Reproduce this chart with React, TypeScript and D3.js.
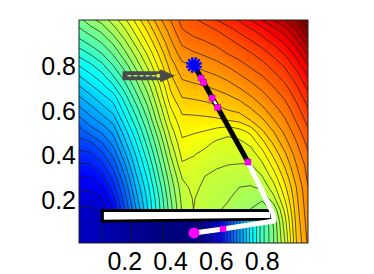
import React from 'react';
import * as d3 from 'd3';

// field value: rows run top (y=1) to bottom (y=0), x from 0 to 1
const fieldRows = [
  [.49, .517, .535, .562, .594, .634, .676, .718, .75, .785, .797, .806, .825, .84, .852, .875, .9, .926, .95, .977, 1.03],
  [.467, .485, .505, .536, .569, .61, .652, .697, .735, .772, .783, .79, .798, .811, .829, .843, .861, .886, .91, .947, .997],
  [.44, .458, .477, .506, .544, .586, .629, .676, .72, .755, .766, .773, .782, .792, .805, .821, .836, .855, .88, .914, .964],
  [.41, .428, .45, .479, .518, .56, .605, .655, .705, .738, .747, .754, .763, .776, .786, .798, .814, .832, .853, .885, .93],
  [.378, .397, .42, .453, .489, .537, .582, .635, .688, .72, .727, .736, .743, .754, .767, .781, .793, .811, .831, .861, .901],
  [.35, .37, .392, .425, .464, .51, .56, .615, .672, .705, .711, .717, .724, .734, .747, .761, .775, .793, .812, .84, .877],
  [.322, .344, .365, .395, .438, .487, .537, .595, .655, .69, .694, .698, .705, .714, .727, .741, .757, .775, .794, .822, .856],
  [.295, .317, .34, .36, .412, .464, .516, .578, .64, .674, .677, .681, .687, .694, .704, .721, .738, .758, .778, .806, .838],
  [.268, .29, .314, .337, .388, .44, .495, .56, .622, .656, .659, .662, .667, .677, .684, .698, .719, .741, .762, .791, .823],
  [.24, .265, .285, .31, .365, .418, .475, .542, .605, .643, .642, .643, .645, .65, .656, .675, .695, .723, .747, .778, .809],
  [.213, .237, .255, .283, .34, .395, .455, .52, .587, .631, .628, .624, .616, .606, .615, .632, .671, .70, .732, .763, .795],
  [.19, .197, .225, .26, .318, .375, .436, .5, .57, .62, .614, .607, .596, .593, .594, .607, .641, .68, .716, .749, .783],
  [.168, .172, .195, .234, .295, .355, .417, .483, .553, .609, .602, .594, .586, .584, .584, .588, .615, .658, .697, .737, .772],
  [.146, .148, .17, .21, .272, .339, .398, .467, .536, .596, .593, .584, .578, .575, .574, .573, .595, .635, .68, .725, .76],
  [.125, .127, .147, .187, .25, .322, .382, .452, .52, .578, .587, .575, .57, .566, .562, .561, .575, .613, .662, .714, .756],
  [.105, .107, .125, .165, .23, .305, .368, .437, .508, .565, .583, .568, .563, .558, .55, .548, .555, .591, .645, .701, .749],
  [.087, .088, .1, .145, .214, .29, .357, .425, .498, .558, .577, .563, .558, .552, .542, .537, .528, .568, .628, .695, .745],
  [.072, .07, .08, .127, .2, .275, .35, .42, .49, .553, .575, .56, .553, .546, .532, .524, .515, .53, .609, .69, .742],
  [.066, .058, .05, .04, .03, .021, .012, .003, -.006, -.015, -.02, .03, .09, .18, .27, .36, .44, .505, .593, .685, .738],
  [.063, .058, .05, .04, .03, .021, .012, .003, -.006, -.015, -.02, .03, .09, .18, .27, .36, .44, .50, .584, .68, .734],
  [.06, .058, .05, .04, .03, .021, .012, .003, -.006, -.015, -.02, .03, .09, .18, .27, .36, .44, .50, .575, .675, .73],
];

const xTicks = [0.2, 0.4, 0.6, 0.8];
const yTicks = [0.2, 0.4, 0.6, 0.8];

const wall = [[.102, .098], [.102, .146], [.842, .146], [.842, .107]];
const whitePath = [[.502, .045], [.629, .063], [.852, .099], [.848, .13], [.738, .363]];
const blackPath = [[.738, .363], [.502, .798]];
const whiteGap = [[.585, .645], [.6, .62]];
const squares = [[.533, .74], [.545, .719], [.581, .65], [.606, .608], [.738, .363], [.629, .063]];
const startPoint = [.502, .045];
const goalPoint = [.502, .798];
const arrowFrom = [.19, .75];
const arrowTo = [.42, .75];

const W = 374;
const H = 274;
const x = d3.scaleLinear().domain([0, 1]).range([79, 308]);
const y = d3.scaleLinear().domain([0, 1]).range([243, 20]);
const jet = d3.scaleLinear<string>()
  .domain([0, .125, .375, .625, .875, 1])
  .range(['#00007f', '#0000ff', '#00ffff', '#ffff00', '#ff0000', '#7f0000'])
  .clamp(true);

const nCols = fieldRows[0].length;
const nRows = fieldRows.length;
const flat = fieldRows.flat();
const makeContours = (t: number[]) => d3.contours().size([nCols, nRows]).smooth(true).thresholds(t)(flat);

// grid samples sit at index + 0.5 in d3.contours coordinates
const gridX = d3.scaleLinear().domain([0.5, nCols - 0.5]).range([x(0), x(1)]);
const gridY = d3.scaleLinear().domain([0.5, nRows - 0.5]).range([y(1), y(0)]);
const gridPath = d3.geoPath(d3.geoTransform({
  point(this: any, px: number, py: number) {
    this.stream.point(gridX(px), gridY(py));
  },
}));

const fillBands = makeContours(d3.range(0, 1.001, 0.008));
const lineLevels = makeContours(d3.range(0, 41).map(k => k * 0.025));

const line = d3.line<number[]>().x(d => x(d[0])).y(d => y(d[1]));

const labelStyle = { fontFamily: '"Liberation Sans", Arial, sans-serif', fontSize: 25, fill: '#000' };

function Arrow() {
  const x0 = x(arrowFrom[0]);
  const x1 = x(arrowTo[0]);
  const yy = y(arrowFrom[1]);
  const head = `M${x1 - 15},${yy - 6.5}L${x1},${yy}L${x1 - 15},${yy + 6.5}Z`;
  return (
    <g>
      <line x1={x0} x2={x1 - 10} y1={yy} y2={yy} stroke="#4a4a4a" strokeWidth={9} />
      <path d={head} fill="#4a4a4a" />
      <line x1={x0 + 5} x2={x1 - 18} y1={yy} y2={yy} stroke="#a4f070" strokeWidth={1.5} strokeDasharray="4 2" />
      <circle cx={x1 - 17} cy={yy} r={2} fill="#d8e840" />
    </g>
  );
}

function Star() {
  const cx = x(goalPoint[0]);
  const cy = y(goalPoint[1]);
  return (
    <g stroke="#0000ff" strokeWidth={2.4}>
      {d3.range(0, 6).map(i => {
        const a = (i * Math.PI) / 6 + Math.PI / 12;
        return <line key={i} x1={cx - 8 * Math.cos(a)} y1={cy - 8 * Math.sin(a)} x2={cx + 8 * Math.cos(a)} y2={cy + 8 * Math.sin(a)} />;
      })}
      <circle cx={cx} cy={cy} r={4.5} fill="#0000ff" stroke="none" />
    </g>
  );
}

export default function App() {
  return (
    <svg width={W} height={H} style={{ position: 'absolute', left: 0, top: 0, background: '#fff' }}>
      <defs>
        <clipPath id="plot">
          <rect x={x(0)} y={y(1)} width={x(1) - x(0)} height={y(0) - y(1)} />
        </clipPath>
      </defs>
      <g clipPath="url(#plot)">
        <rect x={x(0)} y={y(1)} width={x(1) - x(0)} height={y(0) - y(1)} fill={jet(0)} />
        {fillBands.map(c => (
          <path key={c.value} d={gridPath(c) || ''} fill={jet(c.value + 0.004)} />
        ))}
        {lineLevels.map(c => (
          <path key={c.value} d={gridPath(c) || ''} fill="none" stroke="#1a1a1a" strokeWidth={0.7} />
        ))}
      </g>
      <path d={line(wall) + 'Z'} fill="#fff" stroke="#000" strokeWidth={3} />
      <path d={line(whitePath) || ''} fill="none" stroke="#fff" strokeWidth={5} strokeLinejoin="round" />
      <path d={line(blackPath) || ''} fill="none" stroke="#000" strokeWidth={5} />
      <path d={line(whiteGap) || ''} fill="none" stroke="#fff" strokeWidth={2.5} />
      {squares.map((d, i) => (
        <rect key={i} x={x(d[0]) - 3} y={y(d[1]) - 3} width={6} height={6} fill="#ff00ff" stroke="#a000a0" strokeWidth={0.4} />
      ))}
      <circle cx={x(startPoint[0])} cy={y(startPoint[1])} r={5.5} fill="#ff00ff" />
      <Arrow />
      <Star />
      <rect x={x(0)} y={y(1)} width={x(1) - x(0)} height={y(0) - y(1)} fill="none" stroke="#222" strokeWidth={1} />
      {xTicks.map(t => (
        <text key={t} x={x(t)} y={270} textAnchor="middle" style={labelStyle}>{t.toFixed(1)}</text>
      ))}
      {yTicks.map(t => (
        <text key={t} x={76} y={y(t) + 10.5} textAnchor="end" style={labelStyle}>{t.toFixed(1)}</text>
      ))}
    </svg>
  );
}
